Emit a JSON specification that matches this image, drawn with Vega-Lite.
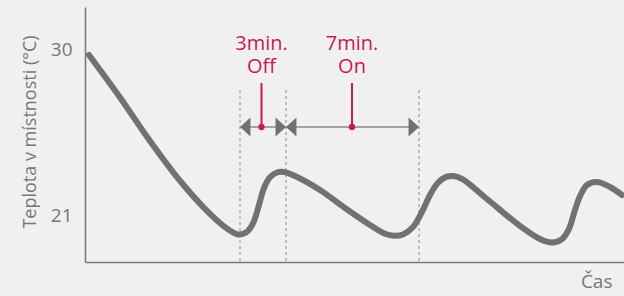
{
  "$schema": "https://vega.github.io/schema/vega-lite/v6.json",
  "width": 539,
  "height": 255,
  "autosize": {"type": "none"},
  "padding": {"left": 85, "top": 7, "right": 0, "bottom": 34},
  "background": "#f0f0f0",
  "config": {
    "view": {"stroke": null},
    "font": "Open Sans"
  },
  "datasets": {
    "curve": [
      {"t": 4, "temp": 29.73}, {"t": 35, "temp": 27.43}, {"t": 65, "temp": 25.07},
      {"t": 95, "temp": 22.91}, {"t": 120, "temp": 21.39}, {"t": 140, "temp": 20.4},
      {"t": 153, "temp": 20.0}, {"t": 161, "temp": 20.1},
      {"t": 168, "temp": 20.6}, {"t": 174, "temp": 21.6}, {"t": 179, "temp": 22.52},
      {"t": 185, "temp": 23.1}, {"t": 192, "temp": 23.36}, {"t": 199, "temp": 23.39},
      {"t": 210, "temp": 23.17}, {"t": 235, "temp": 22.41}, {"t": 260, "temp": 21.43},
      {"t": 285, "temp": 20.51}, {"t": 300, "temp": 20.04}, {"t": 309, "temp": 19.93},
      {"t": 318, "temp": 20.0}, {"t": 328, "temp": 20.4}, {"t": 337, "temp": 21.22},
      {"t": 345, "temp": 22.14}, {"t": 353, "temp": 22.8}, {"t": 361, "temp": 23.12},
      {"t": 368, "temp": 23.17}, {"t": 377, "temp": 23.01}, {"t": 402, "temp": 21.92},
      {"t": 435, "temp": 20.46}, {"t": 455, "temp": 19.75}, {"t": 467, "temp": 19.56},
      {"t": 477, "temp": 19.75}, {"t": 484, "temp": 20.3}, {"t": 490, "temp": 21.33},
      {"t": 495, "temp": 22.08}, {"t": 502, "temp": 22.68}, {"t": 512, "temp": 22.84},
      {"t": 525, "temp": 22.57}, {"t": 537, "temp": 22.14}
    ],
    "marks": [
      {"t": 155, "temp": 27.83, "temp2": 18.506},
      {"t": 201, "temp": 27.83, "temp2": 18.506},
      {"t": 334, "temp": 27.83, "temp2": 18.506}
    ],
    "span": [
      {"t": 155, "t2": 334, "temp": 25.825}
    ],
    "arrows": [
      {"t": 155, "temp": 25.825, "dir": "left"},
      {"t": 201, "temp": 25.825, "dir": "right"},
      {"t": 201, "temp": 25.825, "dir": "left"},
      {"t": 334, "temp": 25.825, "dir": "right"}
    ],
    "notes": [
      {"t": 176.5, "temp": 25.825, "top": 28.21},
      {"t": 267, "temp": 25.825, "top": 28.21}
    ],
    "labels": [
      {"t": 176.5, "temp": 30, "label": "3min."},
      {"t": 176.5, "temp": 28.753, "label": "Off"},
      {"t": 267, "temp": 30, "label": "7min."},
      {"t": 267, "temp": 28.753, "label": "On"}
    ]
  },
  "encoding": {
    "x": {
      "field": "t",
      "type": "quantitative",
      "scale": {"domain": [0, 539], "nice": false, "zero": false},
      "axis": {
        "labels": false,
        "ticks": false,
        "grid": false,
        "domainColor": "#777777",
        "domainWidth": 1.5,
        "title": "Čas",
        "titleX": 527,
        "titleY": 25,
        "titleAlign": "right",
        "titleAnchor": null,
        "titleBaseline": "alphabetic",
        "titleFontSize": 19,
        "titleFontWeight": "normal",
        "titleColor": "#777777",
        "titleFont": "Open Sans"
      }
    },
    "y": {
      "field": "temp",
      "type": "quantitative",
      "scale": {"domain": [18.506, 32.331], "nice": false, "zero": false},
      "axis": {
        "values": [21, 30],
        "ticks": false,
        "grid": false,
        "labelFontSize": 19,
        "labelColor": "#777777",
        "labelFont": "Open Sans",
        "labelPadding": 13,
        "domainColor": "#777777",
        "domainWidth": 1.5,
        "title": "Teplota v místnosti (°C)",
        "titleX": -55,
        "titleY": 124.5,
        "titleAngle": -90,
        "titleAlign": "center",
        "titleBaseline": "middle",
        "titleFontSize": 18,
        "titleFontWeight": "normal",
        "titleColor": "#777777",
        "titleFont": "Open Sans"
      }
    }
  },
  "layer": [
    {
      "data": {"name": "marks"},
      "mark": {"type": "rule", "color": "#8a8a8a", "strokeWidth": 1, "strokeDash": [3, 3]},
      "encoding": {"y2": {"field": "temp2"}}
    },
    {
      "data": {"name": "curve"},
      "mark": {"type": "line", "interpolate": "catmull-rom", "color": "#717171", "strokeWidth": 6, "strokeCap": "round", "strokeJoin": "round"}
    },
    {
      "data": {"name": "span"},
      "mark": {"type": "rule", "color": "#a3a3a3", "strokeWidth": 2},
      "encoding": {"x2": {"field": "t2"}}
    },
    {
      "data": {"name": "arrows"},
      "transform": [{"filter": "datum.dir === 'left'"}],
      "mark": {"type": "point", "shape": "M0,0L1.1,-1L1.1,1Z", "size": 361, "filled": true, "color": "#717171", "opacity": 1, "strokeWidth": 0}
    },
    {
      "data": {"name": "arrows"},
      "transform": [{"filter": "datum.dir === 'right'"}],
      "mark": {"type": "point", "shape": "M0,0L-1.1,-1L-1.1,1Z", "size": 361, "filled": true, "color": "#717171", "opacity": 1, "strokeWidth": 0}
    },
    {
      "data": {"name": "notes"},
      "mark": {"type": "rule", "color": "#c8185a", "strokeWidth": 2},
      "encoding": {"y": {"field": "top", "type": "quantitative"}, "y2": {"field": "temp"}}
    },
    {
      "data": {"name": "notes"},
      "mark": {"type": "point", "filled": true, "size": 40, "color": "#c8185a", "opacity": 1, "strokeWidth": 0}
    },
    {
      "data": {"name": "labels"},
      "mark": {"type": "text", "font": "Open Sans", "fontSize": 20, "color": "#c8185a", "align": "center", "baseline": "alphabetic"},
      "encoding": {
        "text": {"field": "label"}
      }
    }
  ]
}
